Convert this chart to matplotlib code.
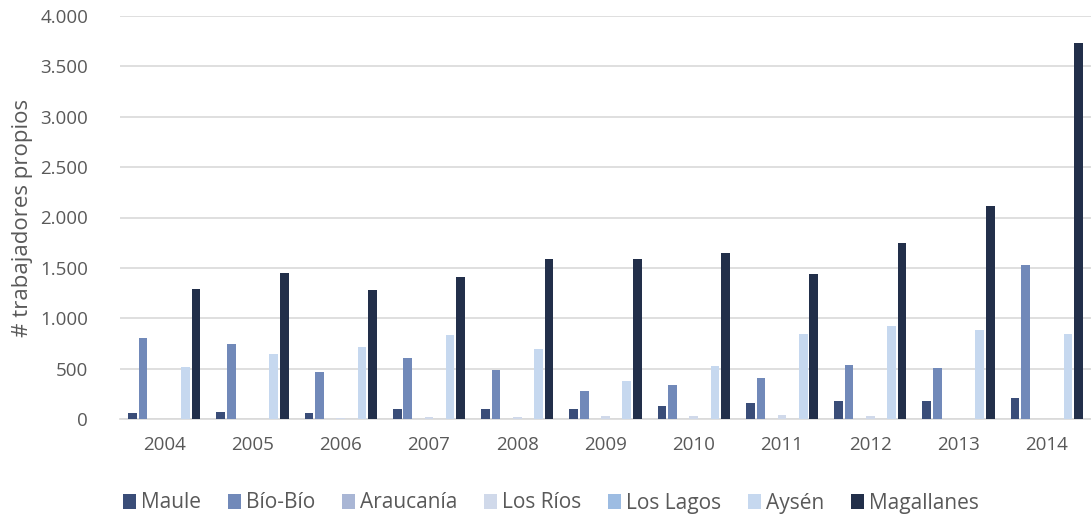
import matplotlib.pyplot as plt
import numpy as np
from matplotlib.ticker import FuncFormatter

years = ["2004", "2005", "2006", "2007", "2008", "2009", "2010", "2011", "2012", "2013", "2014"]

maule      = [60, 70, 57, 96, 96, 96, 129, 159, 176, 179, 208]
bio_bio    = [801, 741, 466, 602, 486, 275, 337, 407, 533, 503, 1528]
araucania  = [0, 0, 0, 0, 0, 0, 0, 0, 0, 0, 0]
los_rios   = [0, 0, 5, 15, 15, 33, 30, 40, 30, 0, 0]
los_lagos  = [0, 0, 0, 0, 0, 0, 0, 0, 0, 0, 0]
aysen      = [513, 645, 718, 831, 695, 380, 526, 841, 920, 883, 847]
magallanes = [1290, 1446, 1277, 1406, 1590, 1585, 1645, 1436, 1747, 2114, 3730]

series_names = ["Maule", "Bío-Bío", "Araucanía", "Los Ríos", "Los Lagos", "Aysén", "Magallanes"]
series_values = [maule, bio_bio, araucania, los_rios, los_lagos, aysen, magallanes]
colors = ["#3A4D78", "#7189B9", "#A9B6D5", "#D0D9EA", "#9DBCE2", "#C6D8EF", "#222F4A"]

plt.rcParams['font.family'] = ['Open Sans', 'DejaVu Sans']
text_color = "#595959"

fig = plt.figure(figsize=(10.91, 5.19), dpi=100)
ax = fig.add_axes([120 / 1091, 100 / 519, (1091 - 120) / 1091, 403 / 519])

x = np.arange(len(years))
n = len(series_names)
slot = 0.12
bar_w = slot * 0.82
for i, (name, vals, c) in enumerate(zip(series_names, series_values, colors)):
    offs = (i - (n - 1) / 2) * slot
    ax.bar(x + offs, vals, width=bar_w, color=c, label=name, zorder=3)

ax.set_xlim(-0.5, len(years) - 0.5)
ax.set_ylim(0, 4000)
ax.set_yticks(np.arange(0, 4001, 500))
ax.yaxis.set_major_formatter(FuncFormatter(lambda v, p: f"{int(v):,}".replace(",", ".")))
ax.set_xticks(x)
ax.set_xticklabels(years)

ax.grid(axis='y', color="#D9D9D9", linewidth=1.2, zorder=0)
for s in ["top", "right", "left"]:
    ax.spines[s].set_visible(False)
ax.spines["bottom"].set_color("#D9D9D9")
ax.spines["bottom"].set_linewidth(1.2)
ax.tick_params(axis='both', length=0, labelsize=13.5, colors=text_color)
ax.tick_params(axis='x', pad=12)
ax.tick_params(axis='y', pad=23)
ax.set_ylabel("# trabajadores propios", fontsize=16, color=text_color, labelpad=5)

fig.legend(loc='center', bbox_to_anchor=(551 / 1091, 1 - 503 / 519), ncol=7,
           frameon=False, fontsize=15, handlelength=0.6, handleheight=0.7,
           handletextpad=0.25, columnspacing=1.3, labelcolor=text_color)

fig.savefig("out.png", dpi=100)
